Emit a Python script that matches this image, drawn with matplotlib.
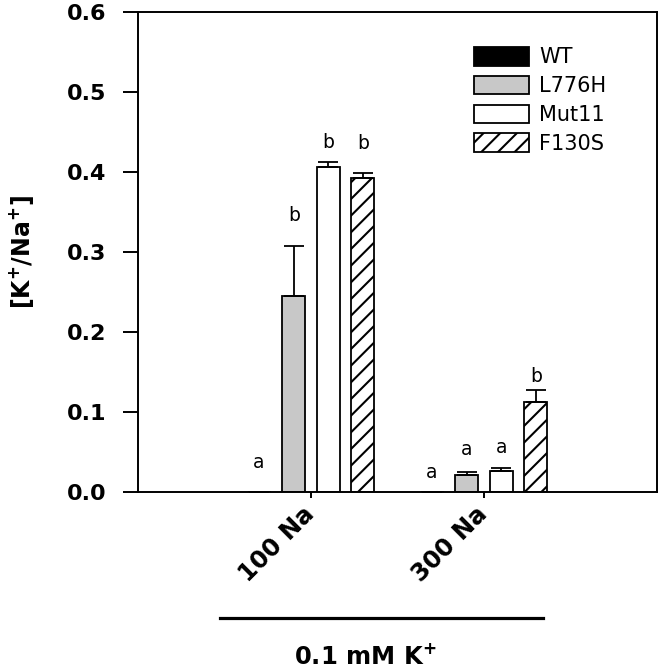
import numpy as np
import matplotlib
matplotlib.use('Agg')
import matplotlib.pyplot as plt
from matplotlib.lines import Line2D

plt.rcParams['font.family'] = ['DejaVu Sans']
plt.rcParams['mathtext.fontset'] = 'dejavusans'
plt.rcParams['hatch.linewidth'] = 1.5

# data
groups = ['100 Na', '300 Na']
genotypes = ['WT', 'L776H', 'Mut11', 'F130S']
wt = [0.0, 0.0]
l776h = [0.245, 0.0215]
mut11 = [0.406, 0.026]
f130s = [0.392, 0.113]
wt_err = [0.0, 0.0]
l776h_err = [0.063, 0.0035]
mut11_err = [0.007, 0.004]
f130s_err = [0.007, 0.015]
# significance letters and the height (baseline) where they sit
letters = [['a', 'b', 'b', 'b'], ['a', 'a', 'a', 'b']]
letter_y = [[0.030, 0.339, 0.430, 0.429], [0.0175, 0.046, 0.049, 0.137]]

values = [wt, l776h, mut11, f130s]
errors = [wt_err, l776h_err, mut11_err, f130s_err]
colors = ['black', '#c8c8c8', 'white', 'white']
hatches = [None, None, None, '//']

fig = plt.figure(figsize=(6.61, 6.71), dpi=100)
ax = fig.add_axes([138/661, 1-492/671, (657-138)/661, (492-12)/671])

x = np.arange(1, len(groups) + 1)
width = 0.134
offsets = [-0.3, -0.1, 0.1, 0.3]

for i, g in enumerate(genotypes):
    ax.bar(x + offsets[i], values[i], width, color=colors[i], edgecolor='black',
           linewidth=1.3, hatch=hatches[i], label=g, zorder=2)
    ax.errorbar(x + offsets[i], values[i], yerr=[np.zeros(len(x)), errors[i]],
                fmt='none', ecolor='black', elinewidth=1.3, capsize=7.5,
                capthick=1.3, zorder=3)

for j in range(len(groups)):
    for i in range(len(genotypes)):
        ax.text(x[j] + offsets[i], letter_y[j][i], letters[j][i], fontsize=13.5,
                ha='center', va='baseline')

ax.set_xlim(0, 3)
ax.set_ylim(0, 0.6)
ax.set_yticks(np.arange(0, 0.61, 0.1))
ax.set_yticklabels(['%.1f' % v for v in np.arange(0, 0.61, 0.1)],
                   fontsize=16, fontweight='bold')
ax.set_xticks(x)
ax.set_xticklabels(groups, fontsize=17.5, fontweight='bold', rotation=45,
                   ha='right', va='center', rotation_mode='anchor')
ax.tick_params(axis='y', direction='out', length=10.8, width=1.4, pad=12)
ax.tick_params(axis='x', direction='out', length=4.3, width=1.4, pad=9)
for s in ax.spines.values():
    s.set_linewidth(1.4)

ax.set_ylabel(r'[K$^\mathbf{+}$/Na$^\mathbf{+}$]', fontsize=17,
              fontweight='bold', labelpad=22)

ax.legend(loc='upper left', bbox_to_anchor=(474/661, 1-47/671),
          bbox_transform=fig.transFigure, frameon=False, fontsize=15,
          handlelength=2.64, handleheight=1.0, handletextpad=0.5,
          labelspacing=0.4, borderpad=0, borderaxespad=0)

fig.add_artist(Line2D([220/661, 543/661], [1-618/671, 1-618/671],
                      color='black', linewidth=2.3, transform=fig.transFigure))
fig.text(365/661, 1-657/671, r'0.1 mM K$^\mathbf{+}$', fontsize=17.5,
         fontweight='bold', ha='center', va='center')

fig.savefig('out.png', dpi=100)
